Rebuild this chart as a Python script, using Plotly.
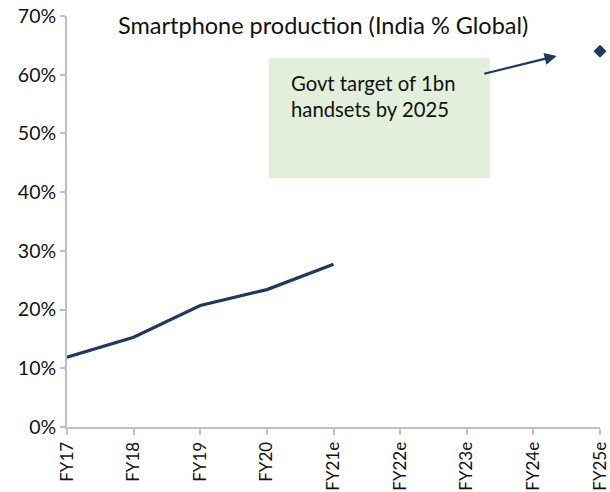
import plotly.graph_objects as go

# Fiscal years on the category axis
years = ["FY17", "FY18", "FY19", "FY20", "FY21e", "FY22e", "FY23e", "FY24e", "FY25e"]
# India's share of global smartphone production (actuals + FY21 estimate)
share_years = ["FY17", "FY18", "FY19", "FY20", "FY21e"]
share_values = [0.119, 0.153, 0.207, 0.234, 0.277]
# Government target point
target_years = ["FY25e"]
target_values = [0.64]

y_ticks = [0, 0.1, 0.2, 0.3, 0.4, 0.5, 0.6, 0.7]
navy = "#1F3864"
axis_grey = "#BFBFBF"
font_family = "Lato, 'Open Sans', sans-serif"

idx = {c: i for i, c in enumerate(years)}

fig = go.Figure()
fig.add_trace(go.Scatter(
    x=[idx[c] for c in share_years], y=share_values, mode="lines",
    line=dict(color=navy, width=3.2), cliponaxis=False, showlegend=False,
))
fig.add_trace(go.Scatter(
    x=[idx[c] for c in target_years], y=target_values, mode="markers",
    marker=dict(symbol="diamond", color=navy, size=10), cliponaxis=False, showlegend=False,
))

# Green callout box
fig.add_shape(type="rect", xref="x", yref="y", x0=3.03, x1=6.35, y0=0.424, y1=0.628,
              fillcolor="#E2EFDA", line=dict(width=0), layer="below")
fig.add_annotation(x=3.33, y=0.563, xref="x", yref="y", xanchor="left", yanchor="middle",
                   text="Govt target of 1bn<br>handsets by 2025", showarrow=False, align="left",
                   font=dict(size=20.3, color="#111111", family=font_family))
# Arrow pointing at the target
fig.add_annotation(x=7.35, y=0.632, ax=6.24, ay=0.601, xref="x", yref="y", axref="x", ayref="y",
                   text="", showarrow=True, arrowhead=2, arrowsize=1.1, arrowwidth=2.2,
                   arrowcolor=navy)
# Chart title
fig.add_annotation(x=0.48, y=0.977, xref="paper", yref="paper", xanchor="center", yanchor="middle",
                   text="Smartphone production (India % Global)", showarrow=False,
                   font=dict(size=23.5, color="#111111", family=font_family))

fig.update_layout(
    width=610, height=492,
    margin=dict(l=67, r=10, t=16, b=65),
    paper_bgcolor="white", plot_bgcolor="white",
    font=dict(family=font_family, size=18, color="#111111"),
    xaxis=dict(range=[0, 8], tickmode="array", tickvals=list(range(len(years))), ticktext=years,
               tickangle=-90, showgrid=False, zeroline=False, showline=True, linecolor=axis_grey,
               linewidth=2, ticks="outside", ticklen=6, tickwidth=2, tickcolor=axis_grey,
               tickfont=dict(size=17), automargin=False),
    yaxis=dict(range=[0, 0.7], tickmode="array", tickvals=y_ticks,
               ticktext=[f"{int(round(v*100))}%" for v in y_ticks], showgrid=False, zeroline=False,
               showline=True, linecolor=axis_grey, linewidth=2, ticks="outside", ticklen=5,
               tickwidth=2, tickcolor=axis_grey, tickfont=dict(size=19.5), automargin=False),
)

fig.write_html("out.html")
